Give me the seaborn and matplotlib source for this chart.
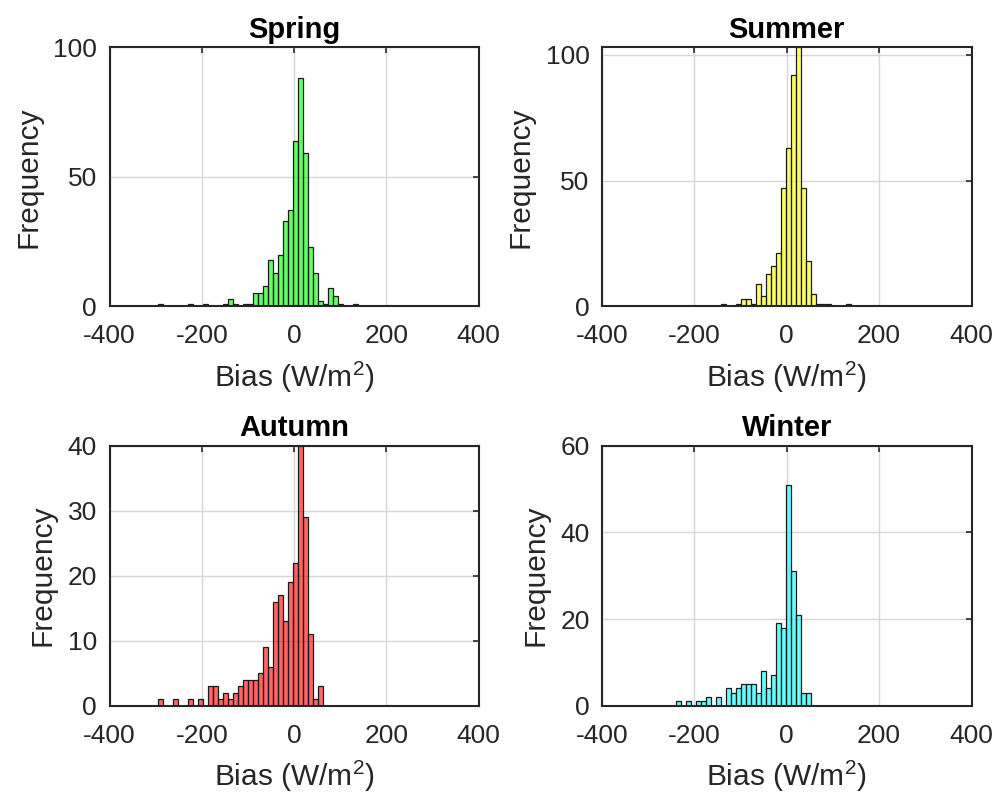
import numpy as np
import pandas as pd
import matplotlib
matplotlib.use("Agg")
import matplotlib.pyplot as plt
import seaborn as sns

# --------------------------------
# Data (bias histograms, shared bin grid in W/m^2)
# --------------------------------
BIN_START = -294.5
BIN_WIDTH = 10.85

seasons = ["Spring", "Summer", "Autumn", "Winter"]
season_colors = ["#00ff00", "#ffff00", "#ff0000", "#00ffff"]

# index of the first bin of each season on the shared grid
first_bin = [0, 14, 0, 5]

spring_counts = [1, 0, 0, 0, 0, 0, 1, 0, 0, 1, 0, 0, 0, 1, 3, 1, 0, 1, 1, 5,
                 5, 8, 18, 13, 20, 33, 37, 64, 88, 59, 23, 13, 2, 1, 7, 4, 1, 0, 0, 1]
summer_counts = [1, 0, 0, 1, 3, 3, 1, 9, 4, 13, 16, 21, 47, 63, 92, 103, 47, 18,
                 5, 1, 1, 1, 0, 0, 0, 1]
autumn_counts = [1, 0, 0, 1, 0, 0, 1, 0, 1, 0, 3, 3, 1, 2, 1, 2, 3, 4, 4, 4,
                 5, 9, 6, 16, 17, 13, 19, 22, 40, 29, 11, 1, 3]
winter_counts = [1, 0, 1, 0, 1, 1, 2, 0, 2, 0, 4, 3, 4, 5, 5, 5, 3, 8, 4, 7,
                 19, 18, 51, 31, 21, 3, 3]

all_counts = [spring_counts, summer_counts, autumn_counts, winter_counts]

y_max = [100, 103, 40, 60]
y_ticks = [[0, 50, 100], [0, 50, 100], [0, 10, 20, 30, 40], [0, 20, 40, 60]]
x_ticks = [-400, -200, 0, 200, 400]

# --------------------------------
# Style
# --------------------------------
sns.set_style("white")
plt.rcParams["font.family"] = ["Liberation Sans", "DejaVu Sans"]
plt.rcParams["mathtext.default"] = "regular"
plt.rcParams["axes.unicode_minus"] = False

TXT = "#262626"

fig = plt.figure(figsize=(10.08, 7.98), dpi=100)

W, H = 1008.0, 798.0
positions = [
    (109.5, 47.3, 478.6, 306.3),
    (602.0, 47.3, 971.5, 306.3),
    (109.5, 445.7, 478.6, 705.7),
    (602.0, 445.7, 971.5, 705.7),
]

for i, season in enumerate(seasons):
    x0, y0, x1, y1 = positions[i]
    ax = fig.add_axes([x0 / W, 1 - y1 / H, (x1 - x0) / W, (y1 - y0) / H])

    counts = all_counts[i]
    n = len(counts)
    lo = BIN_START + first_bin[i] * BIN_WIDTH
    hi = lo + n * BIN_WIDTH
    df = pd.DataFrame({
        "bias": lo + BIN_WIDTH * (np.arange(n) + 0.5),
        "count": counts,
    })

    sns.histplot(data=df, x="bias", weights="count", bins=n, binrange=(lo, hi),
                 color=season_colors[i], edgecolor="black", linewidth=0.9,
                 alpha=0.6, ax=ax)

    # transparent faces, opaque edges (like MATLAB histogram)
    rgb = matplotlib.colors.to_rgb(season_colors[i])
    for p in ax.patches:
        p.set_alpha(None)
        p.set_facecolor((*rgb, 0.6))
        p.set_edgecolor((0.1, 0.1, 0.1, 1))

    ax.set_xlim(-400, 400)
    ax.set_ylim(0, y_max[i])
    ax.set_xticks(x_ticks)
    ax.set_yticks(y_ticks[i])

    ax.grid(True, color="#d6d6d6", linewidth=1.0)
    ax.set_axisbelow(True)

    for s in ax.spines.values():
        s.set_visible(True)
        s.set_linewidth(1.5)
        s.set_color(TXT)

    ax.tick_params(direction="in", length=4, width=1.2, color=TXT,
                   top=True, right=True, labelsize=19, labelcolor=TXT)
    ax.tick_params(axis="x", pad=13)
    ax.tick_params(axis="y", pad=9)

    ax.set_title(season, fontsize=21, fontweight="bold", color="black", pad=7)
    ax.set_xlabel(r"Bias (W/m$^2$)", fontsize=21.5, color=TXT, labelpad=8)
    ax.set_ylabel("Frequency", fontsize=21.5, color=TXT, labelpad=8)

fig.savefig("out.png", dpi=100, facecolor="white")
